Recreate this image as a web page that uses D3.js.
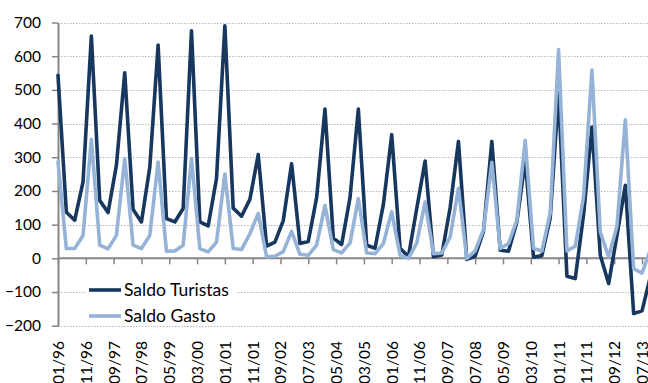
<!DOCTYPE html>
<html>
<head>
<meta charset="utf-8">
<script src="https://cdn.jsdelivr.net/npm/d3@7"></script>
<style>
  body { margin: 0; background: #fff; }
  svg { display: block; font-family: Lato, sans-serif; }
</style>
</head>
<body>
<svg id="chart" width="648" height="383"></svg>
<script>
// quarterly balances, starting 01/96
const saldoTuristas = [
  543, 137, 113, 227, 660, 172, 136, 276, 551, 145, 108, 270,
  633, 118, 108, 148, 675, 108, 96, 237, 690, 149, 125, 175,
  308, 36, 48, 112, 281, 44, 50, 180, 443, 60, 41, 180,
  443, 39, 30, 160, 367, 30, 5, 148, 289, 5, 10, 150,
  347, -3, 6, 80, 347, 24, 21, 108, 290, 3, 8, 120,
  490, -53, -60, 130, 390, 9, -75, 68, 217, -164, -156, -55
];
const saldoGasto = [
  286, 29, 29, 68, 353, 39, 28, 68, 296, 39, 29, 68,
  286, 21, 22, 39, 296, 29, 19, 48, 250, 29, 26, 73,
  133, 5, 6, 20, 80, 12, 9, 39, 157, 26, 16, 45,
  177, 16, 14, 44, 138, 9, 0, 45, 167, 14, 16, 63,
  208, 0, 22, 85, 285, 29, 44, 113, 350, 29, 22, 135,
  620, 22, 36, 185, 559, 78, 4, 96, 411, -31, -44, 25
];
const tickLabels = [
  "01/96", "11/96", "09/97", "07/98", "05/99", "03/00", "01/01", "11/01",
  "09/02", "07/03", "05/04", "03/05", "01/06", "11/06", "09/07", "07/08",
  "05/09", "03/10", "01/11", "11/11", "09/12", "07/13"
];
const yTicks = [-200, -100, 0, 100, 200, 300, 400, 500, 600, 700];
const seriesNames = ["Saldo Turistas", "Saldo Gasto"];
const seriesColors = ["#17375e", "#95b3d7"];

const startYear = 1996;
const width = 648;

// months since 01/96
function monthIndex(label) {
  const [m, yy] = label.split("/").map(Number);
  const year = yy < 50 ? 2000 + yy : 1900 + yy;
  return (year - startYear) * 12 + (m - 1);
}

const svg = d3.select("#chart");

const x = d3.scaleLinear()
  .domain([0, monthIndex(tickLabels[tickLabels.length - 1])])
  .range([58, 642]);
const y = d3.scaleLinear().domain([-200, 700]).range([325.7, 22.5]);

//Gridlines
svg.append("g")
  .selectAll("line")
  .data(yTicks.filter((d) => d !== 0))
  .join("line")
  .attr("x1", 58)
  .attr("x2", width)
  .attr("y1", (d) => Math.round(y(d)) + 0.5)
  .attr("y2", (d) => Math.round(y(d)) + 0.5)
  .attr("stroke", "#b8b8b8")
  .attr("stroke-width", 1)
  .attr("stroke-dasharray", "1.5,1.5");

//Y axis
const yAxis = svg.append("g")
  .attr("transform", "translate(58,0)")
  .call(d3.axisLeft(y).tickValues(yTicks).tickSize(6).tickPadding(11).tickSizeOuter(0));
yAxis.select(".domain").attr("stroke", "#868686").attr("stroke-width", 2);
yAxis.selectAll(".tick line").attr("stroke", "#868686").attr("stroke-width", 1.5);
yAxis.selectAll("text").attr("font-size", 15.5).attr("fill", "#000").attr("font-family", "Lato, sans-serif");

//X axis on zero
const xAxis = svg.append("g")
  .attr("transform", `translate(0,${y(0)})`)
  .call(
    d3.axisBottom(x)
      .tickValues(tickLabels.map(monthIndex))
      .tickFormat((d, i) => tickLabels[i])
      .tickSize(6)
      .tickSizeOuter(0)
  );
xAxis.select(".domain").remove();
xAxis.append("line")
  .attr("x1", 58).attr("x2", width)
  .attr("stroke", "#868686").attr("stroke-width", 2);
xAxis.selectAll(".tick line").attr("stroke", "#868686").attr("stroke-width", 1.5);
xAxis.selectAll("text")
  .attr("transform", "rotate(-90)")
  .attr("x", -(341 - y(0)))
  .attr("y", 0)
  .attr("dy", "0.35em")
  .attr("font-size", 15.5)
  .attr("fill", "#000")
  .attr("font-family", "Lato, sans-serif")
  .style("text-anchor", "end");

//Series lines
const quarters = d3.range(saldoTuristas.length).map((k) => k * 3);
const line = d3.line()
  .x((d, i) => x(quarters[i]))
  .y((d) => y(d));

svg.append("g")
  .selectAll("path")
  .data([saldoTuristas, saldoGasto])
  .join("path")
  .attr("fill", "none")
  .attr("stroke", (d, i) => seriesColors[i])
  .attr("stroke-width", 3.6)
  .attr("stroke-linejoin", "round")
  .attr("stroke-linecap", "round")
  .attr("d", line);

//Legend
const legend = svg.append("g");
legend.append("rect")
  .attr("x", 86).attr("y", 278)
  .attr("width", 150).attr("height", 45)
  .attr("fill", "#fff");
const item = legend.selectAll("g.item")
  .data(seriesNames)
  .join("g")
  .attr("class", "item")
  .attr("transform", (d, i) => `translate(0,${290 + i * 26})`);
item.append("line")
  .attr("x1", 89).attr("x2", 121)
  .attr("stroke", (d, i) => seriesColors[i])
  .attr("stroke-width", 3.6);
item.append("text")
  .attr("x", 124)
  .attr("dy", "0.35em")
  .attr("font-size", 17.5)
  .text((d) => d);
</script>
</body>
</html>
